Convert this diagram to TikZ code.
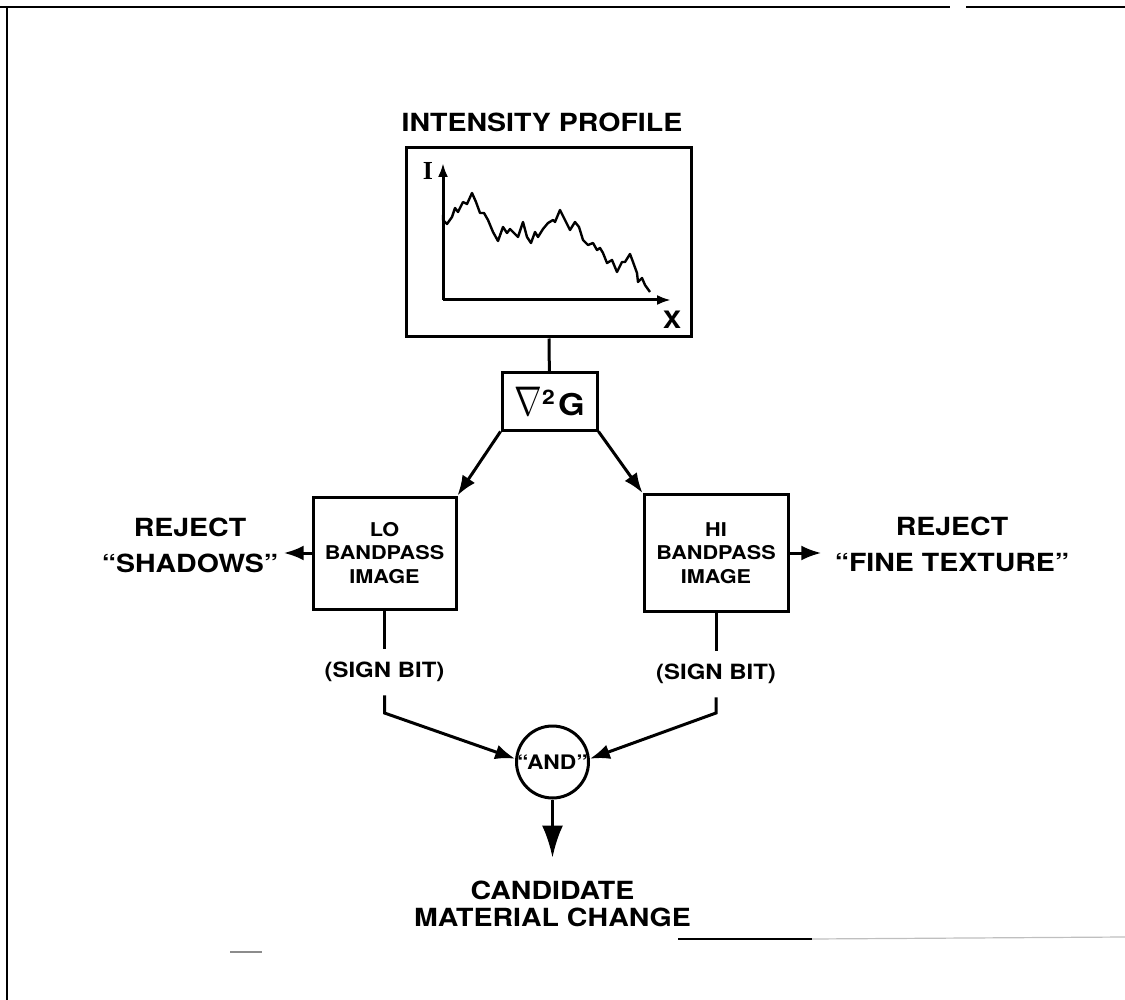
\documentclass[tikz,border=0pt]{standalone}
\usepackage{fontspec}
\setmainfont{TeX Gyre Heros}[FakeStretch=1.14]
\newfontfamily\serifbf{Liberation Serif}
\usetikzlibrary{arrows.meta}
\usetikzlibrary{calc}

\begin{document}
\begin{tikzpicture}[x=0.5pt,y=-0.5pt,line width=1.5pt,
	lbl/.style={font=\fontsize{12.5}{18}\selectfont\bfseries,align=center,inner sep=0pt},
	box/.style={draw,align=center,inner sep=0pt,font=\fontsize{9.5}{11.75}\selectfont\bfseries},
	sgn/.style={font=\fontsize{10.5}{12}\selectfont\bfseries,inner xsep=0pt,inner ysep=6pt},
	tip/.style={-{Latex[length=10pt,width=7.5pt]}},
	bigtip/.style={-{Latex[length=16pt,width=10.5pt]}},
	axtip/.style={-{Latex[length=7pt,width=5pt]}}]
	\useasboundingbox (0,0) rectangle (1125,1000);
	% page frame
	\draw[line width=1pt] (0,7) -- (950,7);
	\draw[line width=1pt] (966,7) -- (1125,7);
	\draw[line width=1pt] (7,7) -- (7,1000);
	\draw[line width=0.8pt,black!45] (230,952) -- (262,952);
	\draw[line width=1pt] (678,939) -- (812,939);
	\draw[line width=0.6pt,black!25] (812,939) -- (1125,937);
	% intensity profile
	\node[lbl] (title) at (542,122) {INTENSITY PROFILE};
	\node[draw,minimum width=142.5pt,minimum height=94.5pt] (prof) at (548.5,242.5) {};
	\coordinate (orig) at (443,300);
	\draw[axtip] (orig) -- (443,163);
	\draw[axtip] (orig) -- (671,300);
	\node (ilbl) at (428,171) {\fontsize{13}{13}\selectfont\serifbf\bfseries I};
	\node[font=\fontsize{12}{12}\selectfont\bfseries] (xlbl) at (672,320) {X};
	\draw[line width=1.2pt,line join=round] plot coordinates {(443,215) (443,220) (447,224) (452,217) (455,208) (458,212) (463,202) (467,204) (472,193) (476,202) (480,213) (484,213) (488,220) (493,232) (498,241) (503,227) (507,233) (510,229) (514,233) (518,237) (523,222) (527,237) (531,243) (535,232) (538,237) (543,229) (548,223) (553,220) (555,222) (560,210) (565,220) (570,230) (575,222) (579,227) (583,240) (588,245) (593,243) (597,250) (600,248) (603,253) (607,263) (612,260) (617,272) (622,262) (625,262) (630,254) (633,262) (637,273) (638,282) (642,278) (645,285) (650,292)};
	% filter
	\node[draw,minimum width=47.5pt,minimum height=28.5pt,inner sep=0pt] (nab) at (549.5,401.5) {\scalebox{0.8}[1]{\fontsize{22}{22}\selectfont$\nabla$}\raisebox{5.5pt}{\fontsize{10}{10}\selectfont\bfseries 2}\,{\fontsize{15}{15}\selectfont\bfseries G}};
	% bandpass images
	\node[box,minimum width=71.5pt,minimum height=56pt] (lo) at (384.5,553) {LO\\BANDPASS\\IMAGE};
	\node[box,minimum width=72pt,minimum height=58.5pt] (hi) at (716,553) {HI\\BANDPASS\\IMAGE};
	\node[lbl] (rejlo) at (190,545) {REJECT\\“SHADOWS”};
	\node[lbl] (rejhi) at (952,544) {REJECT\\“FINE TEXTURE”};
	\node[sgn] (sglo) at (384.5,672) {(SIGN BIT)};
	\node[sgn] (sghi) at (716,674) {(SIGN BIT)};
	\coordinate (bndlo) at (384.5,713);
	\coordinate (bndhi) at (716,713);
	\node[draw,circle,minimum size=35pt,inner sep=0pt,font=\fontsize{10}{10}\selectfont\bfseries] (and) at (552.5,762) {“AND”};
	\node[lbl,font=\fontsize{12.5}{13.5}\selectfont\bfseries,inner ysep=11pt] (cand) at (552.5,904) {CANDIDATE\\MATERIAL CHANGE};
	% connections
	\draw (prof) -- (nab);
	\draw[tip] (nab.south west) -- (lo.north east);
	\draw[tip] (nab.south east) -- (hi.north west);
	\draw[tip,shorten >=2pt] (lo.west) -- (lo.west -| rejlo.east);
	\draw[tip,shorten >=6pt] (hi.east) -- (hi.east -| rejhi.west);
	\draw (lo) -- (sglo);
	\draw (hi) -- (sghi);
	\draw[tip] (sglo) -- (bndlo) -- (and.175);
	\draw[tip] (sghi) -- (bndhi) -- (and.5);
	\draw[bigtip] (and) -- (cand);
\end{tikzpicture}
\end{document}
